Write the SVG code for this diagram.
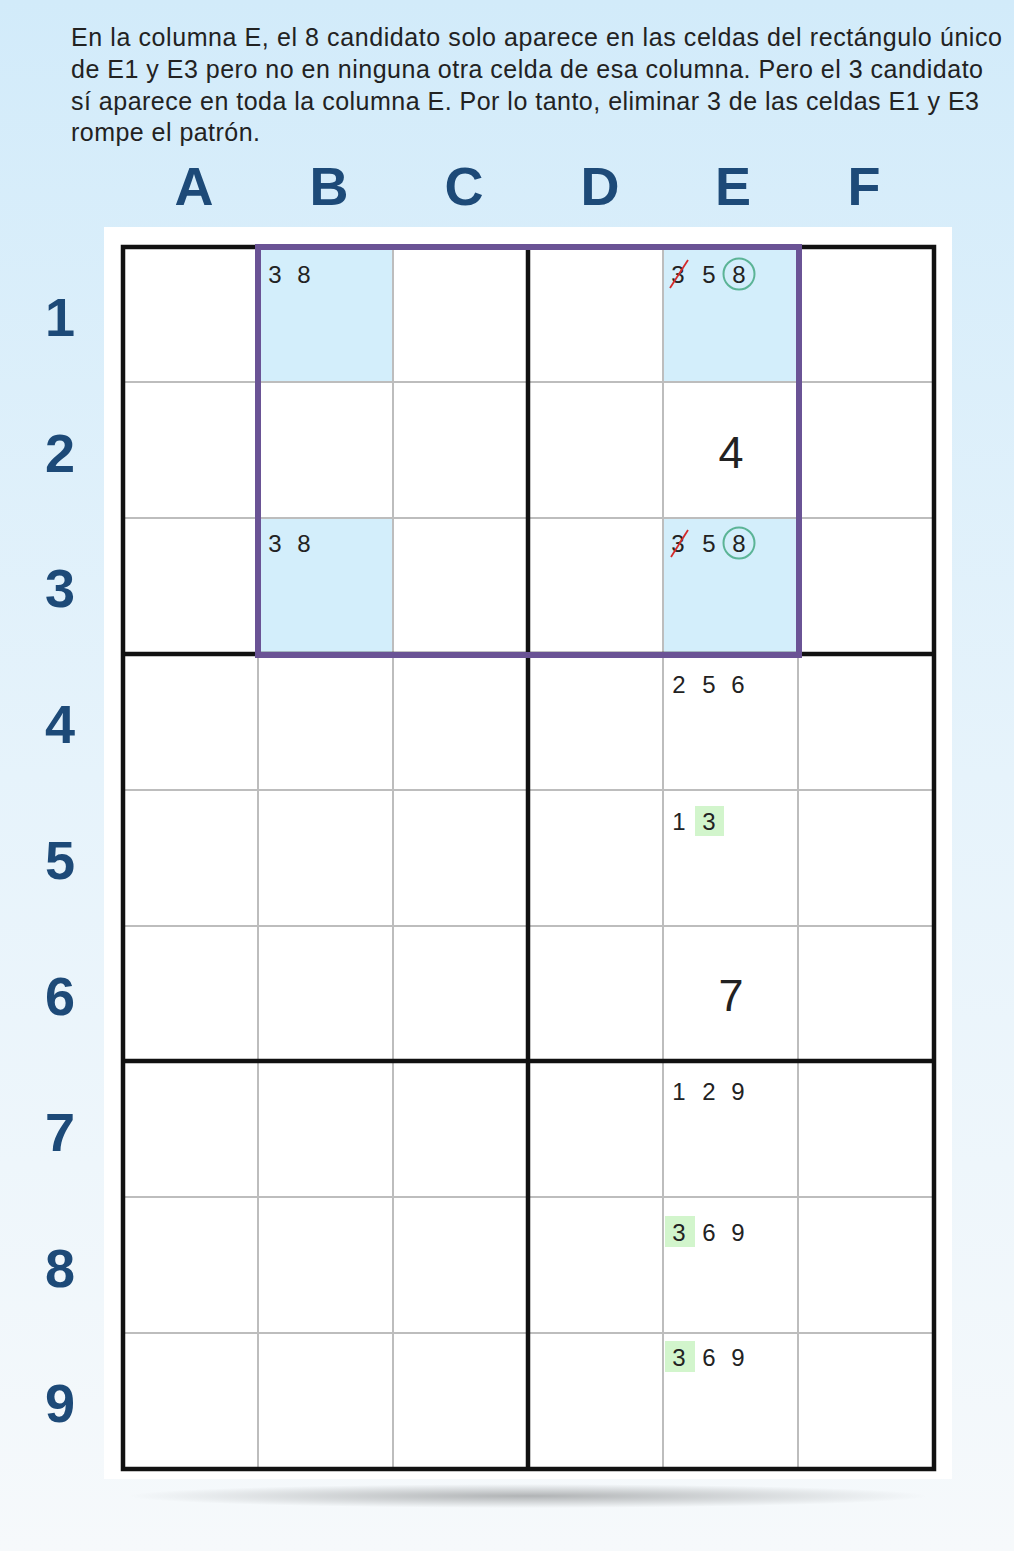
<svg xmlns="http://www.w3.org/2000/svg" width="1014" height="1551" viewBox="0 0 1014 1551">
<defs>
<linearGradient id="bg" x1="0" y1="0" x2="0" y2="1">
<stop offset="0" stop-color="#d2ebfa"/>
<stop offset="0.5" stop-color="#e6f3fb"/>
<stop offset="1" stop-color="#f6f9fb"/>
</linearGradient>
<radialGradient id="sh" cx="0.5" cy="0.5" r="0.5">
<stop offset="0" stop-color="#000" stop-opacity="0.28"/>
<stop offset="1" stop-color="#000" stop-opacity="0"/>
</radialGradient>
<style>
.txt{font-family:"Liberation Sans",Arial,sans-serif;font-size:25px;fill:#222}
.hdr{font-family:"Liberation Sans",Arial,sans-serif;font-size:54px;font-weight:bold;fill:#1d4a78;text-anchor:middle}
.cand{font-family:"Liberation Sans",Arial,sans-serif;font-size:24px;fill:#222;text-anchor:middle}
.given{font-family:"Liberation Sans",Arial,sans-serif;font-size:45px;fill:#222;text-anchor:middle}
.thin{stroke:#bdbdbd;stroke-width:2}
.thick{stroke:#111;stroke-width:4.5}
.hl{fill:#d3eefb}
.g{fill:#d2f5cc}
.circ{fill:none;stroke:#5bb496;stroke-width:2}
.strike{stroke:#d42a2a;stroke-width:1.8}
</style>
</defs>
<rect width="1014" height="1551" fill="url(#bg)"/>
<g id="intro">
<text class="txt" x="71" y="46" textLength="931" lengthAdjust="spacing">En la columna E, el 8 candidato solo aparece en las celdas del rectángulo único</text>
<text class="txt" x="71" y="78" textLength="912" lengthAdjust="spacing">de E1 y E3 pero no en ninguna otra celda de esa columna. Pero el 3 candidato</text>
<text class="txt" x="71" y="110" textLength="908" lengthAdjust="spacing">sí aparece en toda la columna E. Por lo tanto, eliminar 3 de las celdas E1 y E3</text>
<text class="txt" x="71" y="141" textLength="189" lengthAdjust="spacing">rompe el patrón.</text>
</g>
<g id="col-headers">
<text class="hdr" x="194" y="205">A</text>
<text class="hdr" x="329" y="205">B</text>
<text class="hdr" x="464" y="205">C</text>
<text class="hdr" x="600" y="205">D</text>
<text class="hdr" x="733" y="205">E</text>
<text class="hdr" x="864" y="205">F</text>
</g>
<g id="row-headers">
<text class="hdr" x="60" y="336">1</text>
<text class="hdr" x="60" y="472">2</text>
<text class="hdr" x="60" y="607">3</text>
<text class="hdr" x="60" y="743">4</text>
<text class="hdr" x="60" y="879">5</text>
<text class="hdr" x="60" y="1015">6</text>
<text class="hdr" x="60" y="1151">7</text>
<text class="hdr" x="60" y="1287">8</text>
<text class="hdr" x="60" y="1422">9</text>
</g>
<ellipse cx="528" cy="1496" rx="400" ry="12" fill="url(#sh)"/>
<rect x="104" y="227" width="848" height="1252" fill="#fff"/>
<g id="highlights">
<rect class="hl" x="258" y="246" width="135" height="136"/>
<rect class="hl" x="258" y="518" width="135" height="136"/>
<rect class="hl" x="663" y="246" width="135" height="136"/>
<rect class="hl" x="663" y="518" width="135" height="136"/>
<rect class="g" x="695" y="806" width="29" height="30"/>
<rect class="g" x="665" y="1216" width="30" height="31"/>
<rect class="g" x="665" y="1341" width="30" height="31"/>
</g>
<g id="grid">
<line class="thin" x1="258" y1="246" x2="258" y2="1469"/>
<line class="thin" x1="393" y1="246" x2="393" y2="1469"/>
<line class="thin" x1="663" y1="246" x2="663" y2="1469"/>
<line class="thin" x1="798" y1="246" x2="798" y2="1469"/>
<line class="thin" x1="122" y1="382" x2="935" y2="382"/>
<line class="thin" x1="122" y1="518" x2="935" y2="518"/>
<line class="thin" x1="122" y1="790" x2="935" y2="790"/>
<line class="thin" x1="122" y1="926" x2="935" y2="926"/>
<line class="thin" x1="122" y1="1197" x2="935" y2="1197"/>
<line class="thin" x1="122" y1="1333" x2="935" y2="1333"/>
<line class="thick" x1="528" y1="246" x2="528" y2="1469"/>
<line class="thick" x1="122" y1="654" x2="935" y2="654"/>
<line class="thick" x1="122" y1="1061" x2="935" y2="1061"/>
<rect x="123" y="247" width="811" height="1222" fill="none" stroke="#111" stroke-width="4.5"/>
</g>
<g id="unique-rectangle">
<rect x="258" y="247" width="541" height="408" fill="none" stroke="#6a5395" stroke-width="6"/>
</g>
<g id="cell-B1"><text class="cand" x="275" y="283">3</text><text class="cand" x="304" y="283">8</text></g>
<g id="cell-B3"><text class="cand" x="275" y="552">3</text><text class="cand" x="304" y="552">8</text></g>
<g id="cell-E1">
<text class="cand" x="678" y="283">3</text>
<line class="strike" x1="670" y1="288" x2="688" y2="260"/>
<text class="cand" x="709" y="283">5</text>
<text class="cand" x="739" y="283">8</text>
<circle class="circ" cx="739" cy="274" r="15.5"/>
</g>
<g id="cell-E2"><text class="given" x="731" y="468">4</text></g>
<g id="cell-E3">
<text class="cand" x="678" y="552">3</text>
<line class="strike" x1="671" y1="557" x2="688" y2="530"/>
<text class="cand" x="709" y="552">5</text>
<text class="cand" x="739" y="552">8</text>
<circle class="circ" cx="739" cy="543" r="15.5"/>
</g>
<g id="cell-E4"><text class="cand" x="679" y="693">2</text><text class="cand" x="709" y="693">5</text><text class="cand" x="738" y="693">6</text></g>
<g id="cell-E5"><text class="cand" x="679" y="830">1</text><text class="cand" x="709" y="830">3</text></g>
<g id="cell-E6"><text class="given" x="731" y="1011">7</text></g>
<g id="cell-E7"><text class="cand" x="679" y="1100">1</text><text class="cand" x="709" y="1100">2</text><text class="cand" x="738" y="1100">9</text></g>
<g id="cell-E8"><text class="cand" x="679" y="1241">3</text><text class="cand" x="709" y="1241">6</text><text class="cand" x="738" y="1241">9</text></g>
<g id="cell-E9"><text class="cand" x="679" y="1366">3</text><text class="cand" x="709" y="1366">6</text><text class="cand" x="738" y="1366">9</text></g>
</svg>
